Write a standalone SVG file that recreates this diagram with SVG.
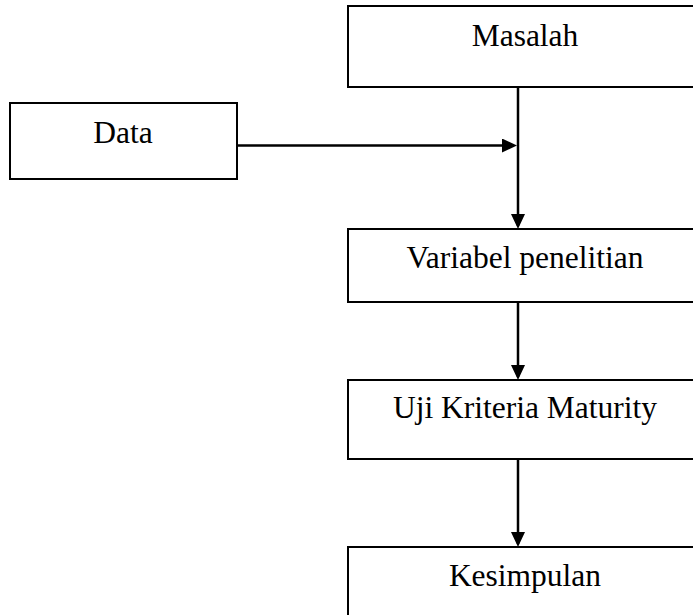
<svg xmlns="http://www.w3.org/2000/svg" width="693" height="615" viewBox="0 0 693 615">
<style>
.box{fill:#ffffff;stroke:#000000;stroke-width:2}
.lbl{font-family:"Liberation Serif","Times New Roman",serif;font-size:31.5px;fill:#000000;text-anchor:middle}
.con{fill:none;stroke:#000000;stroke-width:2.5}
</style>
<defs>
<marker id="arr" viewBox="0 0 15 14" refX="12" refY="7" markerWidth="15" markerHeight="14" markerUnits="userSpaceOnUse" orient="auto">
<path d="M0,0 L15,7 L0,14 Z" fill="#000000"/>
</marker>
</defs>
<rect width="693" height="615" fill="#ffffff"/>
<g id="node-masalah">
<rect class="box" x="348" y="6" width="356" height="81"/>
<text class="lbl" x="525" y="46">Masalah</text>
</g>
<g id="node-data">
<rect class="box" x="10" y="103" width="227" height="76"/>
<text class="lbl" x="123" y="143">Data</text>
</g>
<g id="node-variabel">
<rect class="box" x="348" y="229" width="356" height="73"/>
<text class="lbl" x="525" y="268">Variabel penelitian</text>
</g>
<g id="node-uji">
<rect class="box" x="348" y="380" width="356" height="79"/>
<text class="lbl" x="525" y="418">Uji Kriteria Maturity</text>
</g>
<g id="node-kesimpulan">
<rect class="box" x="348" y="547" width="356" height="80"/>
<text class="lbl" x="525" y="586">Kesimpulan</text>
</g>
<g id="connectors">
<line class="con" x1="237" y1="145.5" x2="514" y2="145.5" marker-end="url(#arr)"/>
<line class="con" x1="518" y1="87" x2="518" y2="226" marker-end="url(#arr)"/>
<line class="con" x1="518" y1="302" x2="518" y2="377" marker-end="url(#arr)"/>
<line class="con" x1="518" y1="459" x2="518" y2="544" marker-end="url(#arr)"/>
</g>
</svg>
